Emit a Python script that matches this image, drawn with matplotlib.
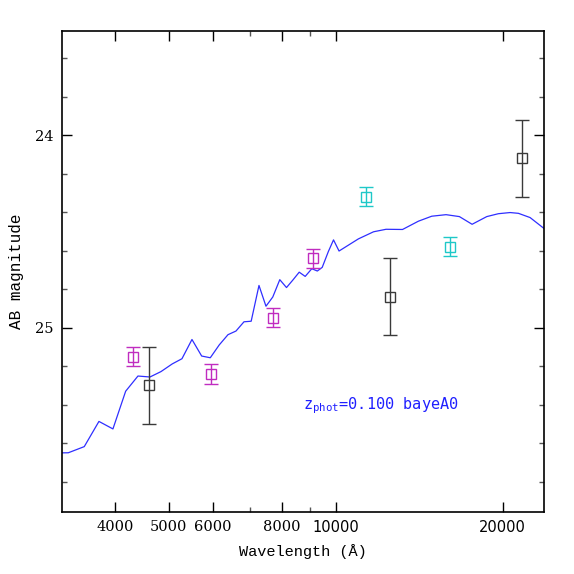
import matplotlib
matplotlib.use("Agg")
import matplotlib.pyplot as plt
import numpy as np

# model SED (wavelength in Angstrom, AB mag)
sed_wave = [3117, 3295, 3521, 3742, 3966, 4181, 4400, 4625, 4841, 5073,
            5282, 5506, 5732, 5941, 6167, 6394, 6610, 6833, 7040, 7272,
            7486, 7701, 7928, 8152, 8375, 8594, 8810, 9055, 9265, 9455,
            9698, 9909, 10139, 10986, 11700, 12322, 13197, 14093, 14898, 15810,
            16710, 17615, 18722, 19645, 20624, 21348, 22408, 24966]
sed_mag = [25.651, 25.650, 25.618, 25.487, 25.526, 25.330, 25.251, 25.256, 25.228, 25.188,
           25.161, 25.061, 25.147, 25.156, 25.089, 25.036, 25.017, 24.969, 24.966, 24.780,
           24.888, 24.840, 24.750, 24.791, 24.751, 24.711, 24.733, 24.693, 24.705, 24.686,
           24.604, 24.543, 24.601, 24.538, 24.501, 24.488, 24.489, 24.446, 24.420, 24.412,
           24.422, 24.462, 24.422, 24.407, 24.401, 24.405, 24.427, 24.533]

# photometry
mag_wave = [4315, 5951, 7719, 9090]
mag_val = [25.15, 25.24, 24.947, 24.639]
mag_err = [0.05, 0.05, 0.05, 0.05]

cyan_wave = [11340, 16075]
cyan_val = [24.318, 24.578]
cyan_err = [0.05, 0.05]

blk_wave = [4601, 12546, 21677]
blk_val = [25.299, 24.838, 24.119]
blk_err = [0.2, 0.2, 0.2]

xticks_major = [4000, 5000, 6000, 8000, 10000, 20000]
xticks_minor = [7000, 9000]
yticks_major = [24, 25]
yticks_minor = [23.6, 23.8, 24.2, 24.4, 24.6, 24.8, 25.2, 25.4, 25.6, 25.8]

plt.rcParams["mathtext.fontset"] = "dejavusans"

fig = plt.figure(figsize=(5.74, 5.74), dpi=100)
ax = fig.add_axes([0.108, 0.108, 0.839, 0.838])

ax.plot(sed_wave, sed_mag, color="#2f2fff", lw=0.9, zorder=2)

ekw = dict(fmt="s", mfc="none", ms=7.5, mew=1.0, capsize=5, elinewidth=1.0,
           capthick=1.0, zorder=3)
ax.errorbar(mag_wave, mag_val, yerr=mag_err, color="#c02cc0", **ekw)
ax.errorbar(cyan_wave, cyan_val, yerr=cyan_err, color="#1ec8c8", **ekw)
ax.errorbar(blk_wave, blk_val, yerr=blk_err, color="#3a3a3a", **ekw)

ax.set_xscale("log")
ax.set_xlim(3210, 23700)
ax.set_ylim(25.958, 23.457)

ax.xaxis.set_major_locator(matplotlib.ticker.FixedLocator(xticks_major))
ax.xaxis.set_minor_locator(matplotlib.ticker.FixedLocator(xticks_minor))
ax.xaxis.set_minor_formatter(matplotlib.ticker.NullFormatter())
ax.set_xticklabels([str(v) for v in xticks_major])
ax.set_yticks(yticks_major)
ax.set_yticks(yticks_minor, minor=True)
ax.set_yticklabels([str(v) for v in yticks_major])

ax.tick_params(which="both", direction="in", top=True, right=True, width=1.0)
ax.tick_params(which="major", length=7.5, labelsize=11, pad=6)
ax.tick_params(which="minor", length=3.8, color="#555555")
for lab in ax.get_xticklabels() + ax.get_yticklabels():
    lab.set_family("DejaVu Serif")
    lab.set_fontsize(10.5)
for lab in ax.get_xticklabels()[4:]:
    lab.set_family("DejaVu Sans")
    lab.set_fontsize(10.5)
for s in ax.spines.values():
    s.set_linewidth(1.2)

ax.set_xlabel("Wavelength (Å)", family="Liberation Mono", fontsize=11, labelpad=6)
ax.set_ylabel("AB magnitude", family="Liberation Mono", fontsize=11.5, labelpad=8)

ax.text(0.50, 0.222, r"z$_\mathtt{phot}$=0.100 bayeA0", family="DejaVu Sans Mono",
        transform=ax.transAxes, color="#2020ff", fontsize=11, va="center", ha="left")

fig.savefig("out.png", dpi=100)
